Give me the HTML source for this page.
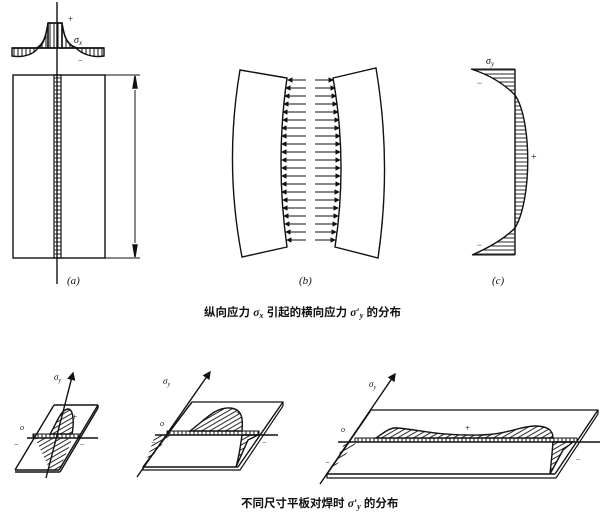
<!DOCTYPE html>
<html><head><meta charset="utf-8"><style>
html,body{margin:0;padding:0;background:#fff;}
svg{display:block}
text{font-family:"Liberation Serif","Noto Serif CJK SC",serif;fill:#111}
.cap{font-family:"Liberation Sans","Noto Sans CJK SC",sans-serif;font-weight:bold;font-size:11.5px}
</style></head><body>
<svg width="600" height="517" viewBox="0 0 600 517" xmlns="http://www.w3.org/2000/svg" stroke="#111" fill="none" stroke-width="1.4">
<defs>
<pattern id="vh" width="4" height="4" patternUnits="userSpaceOnUse"><line x1="2" y1="0" x2="2" y2="4" stroke="#111" stroke-width="1"/></pattern>
<pattern id="hh" width="4" height="4" patternUnits="userSpaceOnUse"><line x1="0" y1="2" x2="4" y2="2" stroke="#111" stroke-width="0.9"/></pattern>
<pattern id="dh" width="4" height="4" patternUnits="userSpaceOnUse" patternTransform="rotate(60)"><line x1="2" y1="0" x2="2" y2="4" stroke="#111" stroke-width="0.9"/></pattern>
<marker id="ah" markerWidth="6" markerHeight="6" refX="5" refY="3" orient="auto"><path d="M0,0 L6,3 L0,6 z" fill="#111" stroke="none"/></marker>
</defs>

<!-- Panel a -->
<line x1="57" y1="2" x2="57" y2="284"/>
<path d="M48,48 L48,23 L62,23 L62,48 Z" fill="url(#vh)"/>
<path d="M48,23 C46,35 44,45 38,48 L48,48 Z M62,23 C64,35 66,45 76,48 L62,48 Z" fill="url(#vh)"/>
<line x1="48" y1="23" x2="62" y2="23"/>
<path d="M48,23 C46,38 42,46 36,48"/><path d="M62,23 C64,38 68,46 78,48"/>
<line x1="12" y1="48" x2="104" y2="48"/>
<path d="M12,48 L12,56 C24,58 34,54 38,48 Z" fill="url(#vh)"/>
<path d="M104,48 L104,56 C92,58 82,54 76,48 Z" fill="url(#vh)"/>
<text x="68" y="22" font-size="9" stroke="none">+</text>
<text x="74" y="43" font-size="10" font-style="italic" stroke="none">σ<tspan font-size="7" dy="2">x</tspan></text>
<text x="78" y="63" font-size="8" stroke="none">−</text>
<rect x="13" y="75" width="92" height="183"/>
<line x1="105" y1="75" x2="140" y2="75" stroke-width="1"/>
<line x1="105" y1="258" x2="140" y2="258" stroke-width="1"/>
<line x1="135" y1="90" x2="135" y2="243" stroke-width="1"/>
<path d="M135,76 l-2,12 h4 z M135,257 l-2,-12 h4 z" fill="#111"/>
<rect x="54" y="75" width="7" height="183" fill="url(#hh)" stroke-width="1.2"/>
<text x="67" y="284" font-size="11" font-style="italic" stroke="none">(a)</text>

<!-- Panel b -->
<path d="M240,70 L287,78 Q275,162 287,247 L242,257 Q224,164 240,70 Z"/>
<path d="M333,78 L376,68 Q392,163 378,258 L335,247 Q348,162 333,78 Z"/>
<g stroke-width="0.9" marker-end="url(#ah)">
<line x1="306" y1="80" x2="288" y2="80"/><line x1="306" y1="88" x2="286" y2="88"/><line x1="306" y1="96" x2="285" y2="96"/><line x1="306" y1="104" x2="284" y2="104"/><line x1="306" y1="112" x2="283" y2="112"/><line x1="306" y1="120" x2="283" y2="120"/><line x1="306" y1="128" x2="282" y2="128"/><line x1="306" y1="136" x2="282" y2="136"/><line x1="306" y1="144" x2="282" y2="144"/><line x1="306" y1="152" x2="282" y2="152"/><line x1="306" y1="160" x2="282" y2="160"/><line x1="306" y1="168" x2="282" y2="168"/><line x1="306" y1="176" x2="282" y2="176"/><line x1="306" y1="184" x2="282" y2="184"/><line x1="306" y1="192" x2="282" y2="192"/><line x1="306" y1="200" x2="283" y2="200"/><line x1="306" y1="208" x2="283" y2="208"/><line x1="306" y1="216" x2="284" y2="216"/><line x1="306" y1="224" x2="285" y2="224"/><line x1="306" y1="232" x2="286" y2="232"/><line x1="306" y1="240" x2="287" y2="240"/>
</g>
<g stroke-width="0.9" marker-end="url(#ah)">
<line x1="315" y1="80" x2="333" y2="80"/><line x1="315" y1="88" x2="335" y2="88"/><line x1="315" y1="96" x2="336" y2="96"/><line x1="315" y1="104" x2="337" y2="104"/><line x1="315" y1="112" x2="338" y2="112"/><line x1="315" y1="120" x2="339" y2="120"/><line x1="315" y1="128" x2="339" y2="128"/><line x1="315" y1="136" x2="340" y2="136"/><line x1="315" y1="144" x2="340" y2="144"/><line x1="315" y1="152" x2="340" y2="152"/><line x1="315" y1="160" x2="340" y2="160"/><line x1="315" y1="168" x2="340" y2="168"/><line x1="315" y1="176" x2="340" y2="176"/><line x1="315" y1="184" x2="340" y2="184"/><line x1="315" y1="192" x2="339" y2="192"/><line x1="315" y1="200" x2="339" y2="200"/><line x1="315" y1="208" x2="338" y2="208"/><line x1="315" y1="216" x2="338" y2="216"/><line x1="315" y1="224" x2="337" y2="224"/><line x1="315" y1="232" x2="336" y2="232"/><line x1="315" y1="240" x2="335" y2="240"/>
</g>
<text x="299" y="284" font-size="11" font-style="italic" stroke="none">(b)</text>

<!-- Panel c -->
<path d="M471,69 L515,69 L515,255 L472,255 C495,245 508,235 515,228 C532,200 532,120 515,95 C505,85 490,75 471,69 Z" fill="url(#hh)" stroke="none"/>
<line x1="515" y1="69" x2="515" y2="255"/>
<line x1="471" y1="69" x2="515" y2="69" stroke-width="1"/>
<line x1="472" y1="255" x2="515" y2="255" stroke-width="1"/>
<path d="M471,69 C490,75 505,85 515,95 C532,120 532,200 515,228 C508,235 495,245 472,255"/>
<text x="486" y="64" font-size="10" font-style="italic" stroke="none">σ<tspan font-size="7" dy="2">y</tspan></text>
<text x="477" y="86" font-size="9" stroke="none">−</text>
<text x="531" y="160" font-size="10" stroke="none">+</text>
<text x="477" y="248" font-size="9" stroke="none">−</text>
<text x="492" y="284" font-size="11" font-style="italic" stroke="none">(c)</text>

<text class="cap" x="204" y="316" stroke="none">纵向应力 <tspan font-style="italic" font-family="Liberation Serif">σ<tspan font-size="8" dy="2">x</tspan></tspan><tspan dy="-2"> 引起的横向应力 </tspan><tspan font-style="italic" font-family="Liberation Serif">σ′<tspan font-size="8" dy="2">y</tspan></tspan><tspan dy="-2"> 的分布</tspan></text>

<!-- Bottom fig 1 -->
<line x1="46" y1="478" x2="73" y2="373" marker-end="url(#ah)"/>
<text x="54" y="380" font-size="9" font-style="italic" stroke="none">σ<tspan font-size="6" dy="2">y</tspan></text>
<line x1="54" y1="405" x2="98" y2="405"/>
<line x1="98" y1="405" x2="98" y2="408"/>
<line x1="54" y1="405" x2="15" y2="470"/>
<line x1="98" y1="405" x2="59" y2="470"/>
<line x1="98" y1="408" x2="60" y2="472"/>
<line x1="15" y1="470" x2="59" y2="470"/>
<line x1="15" y1="472" x2="60" y2="472"/>
<line x1="27" y1="438" x2="98" y2="438"/>
<rect x="33" y="434" width="47" height="4" fill="url(#vh)" stroke-width="1"/>
<path d="M50,434 C56,425 60,410 68,409 C74,409 74,425 72,434 Z" fill="url(#dh)"/>
<path d="M35,438 L72,438 C70,448 62,460 60,470 L50,470 Z" fill="url(#dh)" stroke="none"/>
<text x="72" y="420" font-size="9" stroke="none">+</text>
<text x="20" y="430" font-size="8" font-style="italic" stroke="none">o</text>
<text x="14" y="447" font-size="8" stroke="none">−</text>
<text x="80" y="447" font-size="8" stroke="none">−</text>

<!-- Bottom fig 2 -->
<line x1="137" y1="477" x2="210" y2="372" marker-end="url(#ah)"/>
<text x="163" y="384" font-size="9" font-style="italic" stroke="none">σ<tspan font-size="6" dy="2">y</tspan></text>
<path d="M192,402 L283,402 L283,406 L240,470 L143,470 L143,467 Z" stroke-width="1.2"/>
<line x1="192" y1="402" x2="143" y2="467"/>
<line x1="283" y1="402" x2="238" y2="467"/>
<line x1="143" y1="467" x2="238" y2="467"/>
<line x1="155" y1="435" x2="278" y2="435"/>
<rect x="167" y="431" width="92" height="4" fill="url(#vh)" stroke-width="1"/>
<path d="M190,431 C205,420 215,407 230,408 C243,409 243,420 242,431 Z" fill="url(#dh)"/>
<path d="M170,435 L145,465 L155,435 Z" fill="url(#dh)" stroke="none"/>
<path d="M242,435 C240,450 238,460 236,467 L248,440 L258,435 Z" fill="url(#dh)"/>
<text x="236" y="416" font-size="9" stroke="none">+</text>
<text x="160" y="426" font-size="8" font-style="italic" stroke="none">o</text>
<text x="151" y="445" font-size="8" stroke="none">−</text>
<text x="262" y="445" font-size="8" stroke="none">−</text>

<!-- Bottom fig 3 -->
<line x1="320" y1="484" x2="395" y2="374" marker-end="url(#ah)"/>
<text x="369" y="387" font-size="9" font-style="italic" stroke="none">σ<tspan font-size="6" dy="2">y</tspan></text>
<path d="M371,410 L598,410 L598,414 L556,478 L327,478 L327,474 Z" stroke-width="1.2"/>
<line x1="371" y1="410" x2="327" y2="474"/>
<line x1="598" y1="410" x2="555" y2="474"/>
<line x1="327" y1="474" x2="555" y2="474"/>
<line x1="338" y1="442" x2="600" y2="442"/>
<rect x="355" y="438" width="222" height="4" fill="url(#vh)" stroke-width="1"/>
<path d="M376,438 C385,432 390,427 398,428 C420,430 440,436 480,435 C510,434 520,426 535,426 C550,426 553,432 553,438 Z" fill="url(#dh)"/>
<path d="M357,442 L330,472 L345,442 Z" fill="url(#dh)" stroke="none"/>
<path d="M553,442 C552,455 551,465 550,474 L563,450 L573,442 Z" fill="url(#dh)"/>
<text x="465" y="431" font-size="9" stroke="none">+</text>
<text x="341" y="432" font-size="8" font-style="italic" stroke="none">o</text>
<text x="325" y="465" font-size="8" stroke="none">−</text>
<text x="576" y="462" font-size="8" stroke="none">−</text>

<text class="cap" x="241" y="507" stroke="none">不同尺寸平板对焊时 <tspan font-style="italic" font-family="Liberation Serif">σ′<tspan font-size="8" dy="2">y</tspan></tspan><tspan dy="-2"> 的分布</tspan></text>
</svg>
</body></html>
